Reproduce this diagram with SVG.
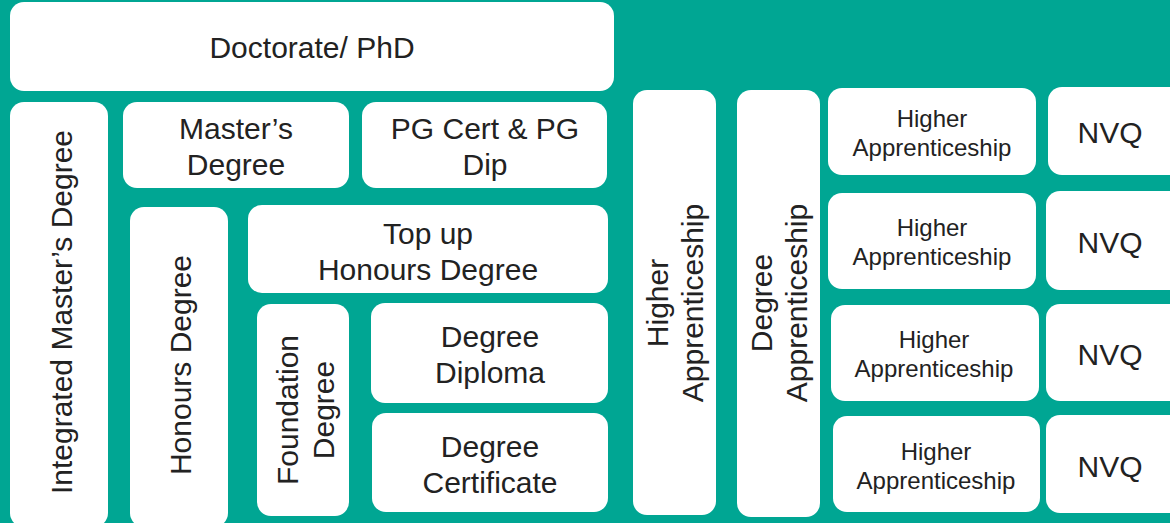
<svg xmlns="http://www.w3.org/2000/svg" width="1170" height="523" viewBox="0 0 1170 523">
<style>
.box{fill:#ffffff;}
.t{font-family:"Liberation Sans",Arial,sans-serif;font-size:30px;fill:#222222;text-anchor:middle;}
.s{font-size:24px;}
</style>
<rect x="0" y="0" width="1170" height="523" fill="#00A693"/>
<g id="connectors"></g>
<g id="doctorate"><rect class="box" x="10" y="2" width="604" height="89" rx="14"/><text class="t" x="312" y="58">Doctorate/ PhD</text></g>
<g id="integrated-masters"><rect class="box" x="10" y="102" width="98" height="425" rx="14"/><text class="t" transform="translate(72,312) rotate(-90)">Integrated Master’s Degree</text></g>
<g id="masters"><rect class="box" x="123" y="102" width="226" height="86" rx="14"/><text class="t" x="236" y="139">Master’s</text><text class="t" x="236" y="175">Degree</text></g>
<g id="pgcert"><rect class="box" x="362" y="102" width="245" height="86" rx="14"/><text class="t" x="485" y="139">PG Cert &amp; PG</text><text class="t" x="485" y="175">Dip</text></g>
<g id="honours"><rect class="box" x="130" y="207" width="98" height="320" rx="14"/><text class="t" transform="translate(191,365) rotate(-90)">Honours Degree</text></g>
<g id="topup"><rect class="box" x="248" y="205" width="360" height="88" rx="14"/><text class="t" x="428" y="244">Top up</text><text class="t" x="428" y="280">Honours Degree</text></g>
<g id="foundation"><rect class="box" x="257" y="304" width="92" height="212" rx="14"/><text class="t" transform="translate(298,410) rotate(-90)">Foundation</text><text class="t" transform="translate(334,410) rotate(-90)">Degree</text></g>
<g id="diploma"><rect class="box" x="371" y="303" width="237" height="100" rx="14"/><text class="t" x="490" y="347">Degree</text><text class="t" x="490" y="383">Diploma</text></g>
<g id="certificate"><rect class="box" x="372" y="413" width="236" height="99" rx="14"/><text class="t" x="490" y="457">Degree</text><text class="t" x="490" y="493">Certificate</text></g>
<g id="higher-app-v"><rect class="box" x="633" y="90" width="83" height="425" rx="14"/><text class="t" transform="translate(668,303) rotate(-90)">Higher</text><text class="t" transform="translate(703,303) rotate(-90)">Apprenticeship</text></g>
<g id="degree-app-v"><rect class="box" x="737" y="90" width="83" height="427" rx="14"/><text class="t" transform="translate(772,303) rotate(-90)">Degree</text><text class="t" transform="translate(807,303) rotate(-90)">Apprenticeship</text></g>
<g id="ha1"><rect class="box" x="828" y="88" width="208" height="87" rx="14"/><text class="t s" x="932" y="127">Higher</text><text class="t s" x="932" y="156">Apprenticeship</text></g>
<g id="ha2"><rect class="box" x="828" y="193" width="208" height="96" rx="14"/><text class="t s" x="932" y="236">Higher</text><text class="t s" x="932" y="265">Apprenticeship</text></g>
<g id="ha3"><rect class="box" x="831" y="305" width="208" height="96" rx="14"/><text class="t s" x="934" y="348">Higher</text><text class="t s" x="934" y="377">Apprenticeship</text></g>
<g id="ha4"><rect class="box" x="833" y="416" width="207" height="96" rx="14"/><text class="t s" x="936" y="460">Higher</text><text class="t s" x="936" y="489">Apprenticeship</text></g>
<g id="nvq1"><rect class="box" x="1048" y="87" width="136" height="88" rx="14"/><text class="t" x="1110" y="143">NVQ</text></g>
<g id="nvq2"><rect class="box" x="1046" y="191" width="138" height="99" rx="14"/><text class="t" x="1110" y="253">NVQ</text></g>
<g id="nvq3"><rect class="box" x="1046" y="304" width="138" height="97" rx="14"/><text class="t" x="1110" y="365">NVQ</text></g>
<g id="nvq4"><rect class="box" x="1046" y="415" width="138" height="98" rx="14"/><text class="t" x="1110" y="477">NVQ</text></g>
</svg>
